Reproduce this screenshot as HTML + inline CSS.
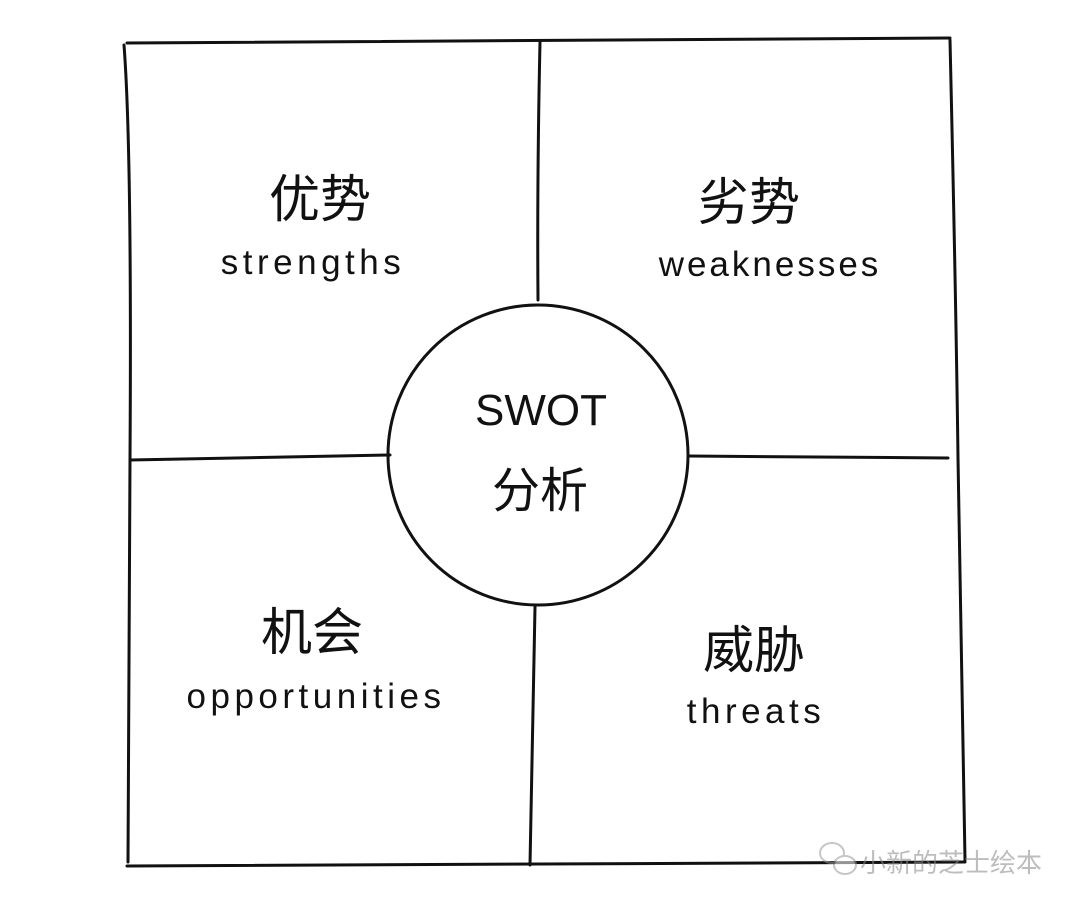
<!DOCTYPE html>
<html><head><meta charset="utf-8"><style>
html,body{margin:0;padding:0;background:#fff;width:1080px;height:909px;overflow:hidden}
svg text{font-family:"Liberation Sans","Noto Sans CJK SC",sans-serif;fill:#111}
</style></head><body>
<svg width="1080" height="909" viewBox="0 0 1080 909" xmlns="http://www.w3.org/2000/svg">
<g stroke="#111" stroke-width="3" fill="none" stroke-linecap="round">
<path d="M127 43 L950 38"/>
<path d="M124 45 Q132 150 130 460 Q128 700 128 862"/>
<path d="M950 40 Q956 300 958 458 Q962 700 965 860"/>
<path d="M127 866 L965 862"/>
<path d="M540 42 Q537 180 538 300"/>
<path d="M535 607 Q532 740 530 865"/>
<path d="M130 460 L390 455"/>
<path d="M688 456 L948 458"/>
<circle cx="538" cy="455" r="150"/>
</g>
<g text-anchor="middle">
<text x="320" y="217" font-size="51">优势</text>
<text x="313" y="274" font-size="35" letter-spacing="4.5">strengths</text>
<text x="749" y="220" font-size="51">劣势</text>
<text x="770" y="276" font-size="35" letter-spacing="3">weaknesses</text>
<text x="541" y="425" font-size="44">SWOT</text>
<text x="540" y="507" font-size="48">分析</text>
<text x="312" y="650" font-size="51">机会</text>
<text x="316" y="708" font-size="35" letter-spacing="4.5">opportunities</text>
<text x="754" y="668" font-size="51">威胁</text>
<text x="756" y="723" font-size="35" letter-spacing="4.5">threats</text>
</g>
<g opacity="0.55">
<ellipse cx="832" cy="853" rx="12" ry="10" fill="none" stroke="#999" stroke-width="2"/>
<ellipse cx="845" cy="865" rx="11" ry="9" fill="#fff" stroke="#999" stroke-width="2"/>
<text x="860" y="872" font-size="26" style="fill:#888">小新的芝士绘本</text>
</g>
</svg>
</body></html>
